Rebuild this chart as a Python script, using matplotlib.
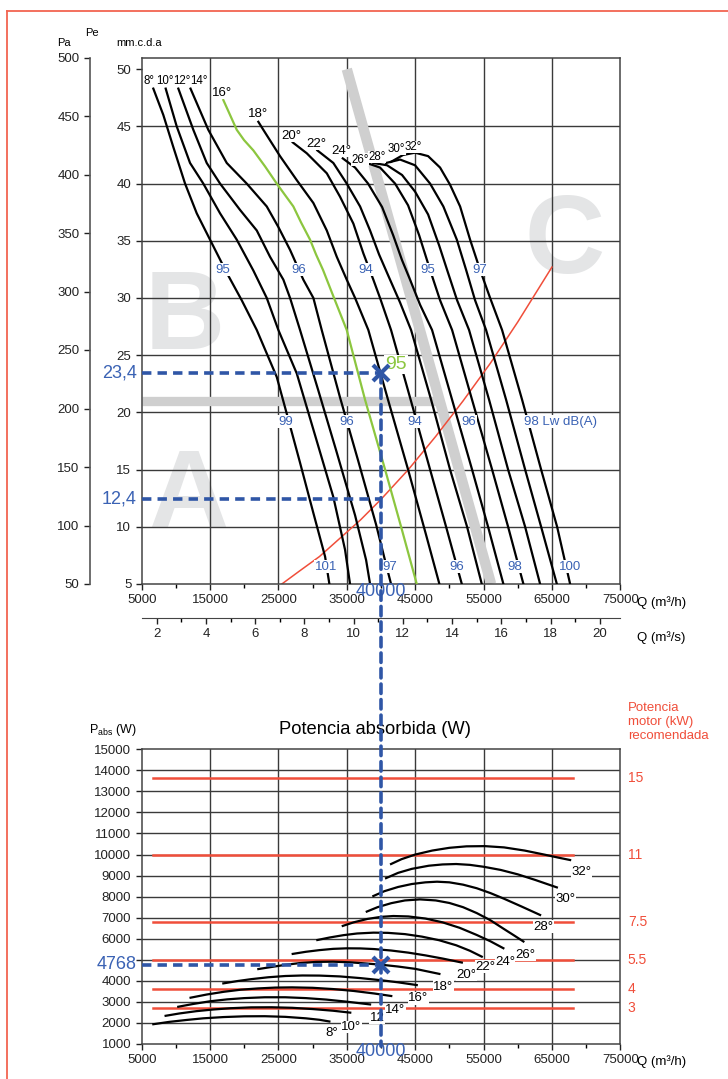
import matplotlib
matplotlib.use('Agg')
import matplotlib.pyplot as plt
from matplotlib.patches import ConnectionPatch
from matplotlib.lines import Line2D

plt.rcParams['font.family'] = ['Liberation Sans', 'DejaVu Sans']
plt.rcParams['mathtext.fontset'] = 'custom'
plt.rcParams['mathtext.rm'] = 'Liberation Sans'

# curvas caudal (m3/h) - presion estatica (mm.c.d.a) por angulo de alabe
q08 = [6700, 8160, 9620, 11340, 13050, 14990, 17440, 19630, 21830, 24750, 26210, 28160, 30110, 31820, 32450]
h08 = [48.3, 46.0, 43.2, 40.0, 37.4, 35.1, 32.2, 29.8, 27.2, 23.1, 19.9, 15.6, 11.2, 7.4, 5.0]
q10 = [8510, 10120, 12070, 14010, 16460, 18900, 21330, 23290, 24990, 27680, 30110, 33030, 34740, 35470]
h10 = [48.3, 45.0, 41.8, 40.0, 37.4, 35.1, 32.4, 30.0, 27.2, 23.4, 18.5, 12.6, 8.0, 5.0]
q12 = [10360, 12550, 14510, 16460, 19380, 21830, 23770, 25720, 26700, 28160, 30790, 33430, 36210, 37820, 38400]
h12 = [48.3, 44.7, 41.8, 40.0, 37.7, 35.9, 33.6, 31.6, 30.0, 27.2, 22.0, 16.7, 11.0, 7.1, 5.0]
q14 = [12140, 14740, 17440, 20360, 23290, 24990, 26700, 28640, 30110, 31330, 34010, 36650, 39280, 40740, 41470]
h14 = [48.3, 44.7, 41.8, 40.0, 38.0, 36.2, 34.2, 31.6, 30.0, 27.2, 21.3, 15.8, 10.2, 6.7, 5.0]
q16 = [16940, 17770, 18900, 19970, 21330, 23040, 24750, 25960, 27180, 28310, 29620, 30500, 31520, 33130,
       34990, 37670, 40600, 42940, 45230]
h16 = [47.3, 46.2, 44.7, 43.8, 42.9, 41.5, 40.0, 39.0, 38.0, 36.6, 35.1, 33.8, 32.45, 30.0,
       27.2, 21.1, 15.0, 10.0, 5.0]
q18 = [22060, 22790, 25230, 27680, 30110, 32070, 33530, 34990, 36210, 38150, 41030, 43960, 46590, 48540]
h18 = [45.4, 44.7, 42.4, 40.3, 38.3, 35.9, 33.6, 31.6, 30.0, 27.2, 21.1, 15.0, 9.3, 5.0]
q20 = [27090, 29140, 32070, 34010, 35960, 37420, 38880, 39860, 41470, 44340, 47180, 49520, 51820]
h20 = [43.6, 42.65, 40.9, 38.85, 36.5, 33.9, 31.6, 30.0, 27.2, 21.1, 15.0, 10.0, 5.0]
q22 = [30690, 33030, 34990, 36940, 38400, 39720, 41030, 42790, 44400, 47330, 50100, 52590, 54740]
h22 = [42.9, 41.8, 40.0, 38.0, 35.9, 33.8, 32.0, 29.6, 27.2, 21.1, 15.0, 10.0, 5.0]
q24 = [34410, 36210, 38110, 40160, 41770, 43080, 44250, 45720, 47470, 50400, 53320, 55660, 57900]
h24 = [42.2, 41.4, 40.0, 37.95, 35.5, 33.3, 31.6, 29.4, 27.2, 21.1, 15.0, 10.0, 5.0]
q26 = [37920, 39860, 42060, 43960, 45570, 47180, 48640, 50400, 53320, 56250, 58590, 60830]
h26 = [41.8, 41.4, 40.0, 38.1, 35.5, 32.45, 29.8, 27.2, 21.1, 15.0, 10.0, 5.0]
q28 = [38880, 40890, 43080, 44980, 46890, 48500, 49670, 51130, 52880, 55810, 58590, 61080, 63270]
h28 = [41.8, 41.6, 40.75, 39.3, 37.3, 34.6, 32.45, 29.8, 27.2, 21.1, 15.0, 10.0, 5.0]
q30 = [40740, 42790, 44980, 47180, 49120, 51090, 52450, 53760, 55370, 58300, 61080, 63420, 65720]
h30 = [41.8, 42.1, 41.6, 40.0, 38.0, 35.1, 32.45, 29.8, 27.2, 21.1, 15.0, 10.0, 5.0]
q32 = [41470, 43230, 44980, 46890, 48640, 50100, 51570, 53030, 54490, 55960, 57710, 60640, 63420, 65760, 67660]
h32 = [41.9, 42.5, 42.7, 42.4, 41.4, 39.9, 38.0, 35.1, 32.45, 30.0, 27.2, 21.1, 15.0, 10.0, 5.0]

angulos = ['8°', '10°', '12°', '14°', '16°', '18°', '20°', '22°', '24°', '26°', '28°', '30°', '32°']
# posicion de las etiquetas de angulo (Q, mm)
lab_q = [6070, 8340, 10820, 13380, 16700, 22060, 26950, 30600, 34260, 36940, 39380, 42310, 44740]
lab_h = [49.0, 49.0, 49.0, 49.0, 47.9, 46.1, 44.2, 43.5, 42.85, 42.1, 42.3, 43.0, 43.2]
lab_fs = [8.3, 8.3, 8.3, 8.3, 9.5, 9.5, 9.5, 9.5, 9.5, 8.3, 8.3, 8.3, 8.3]

# curva de la instalacion
q_inst = [25500, 28000, 31000, 34000, 37000, 40000, 44000, 48000, 52000, 56000, 60000, 65000]
h_inst = [5.0, 6.1, 7.4, 9.0, 10.6, 12.4, 15.0, 17.9, 21.0, 24.3, 27.9, 32.7]

# niveles sonoros Lw dB(A)
lw_txt = ['95', '96', '94', '95', '97', '99', '96', '94', '96', '101', '97', '96', '98', '100']
lw_q = [16900, 28000, 37800, 46900, 54500, 26000, 35000, 45000, 52900, 31960, 41330, 51130, 59620, 67670]
lw_h = [32.45, 32.45, 32.45, 32.45, 32.45, 19.2, 19.2, 19.2, 19.2, 6.5, 6.5, 6.5, 6.5, 6.5]

# potencia absorbida (W)
p08q = [6700, 9000, 11500, 14000, 17000, 20000, 23000, 26000, 29000, 31000, 32450]
p08 = [1940, 2050, 2140, 2220, 2280, 2315, 2320, 2290, 2220, 2150, 2070]
p10q = [8500, 10500, 13000, 15500, 18000, 21000, 24000, 27000, 30000, 33000, 35500]
p10 = [2340, 2450, 2560, 2640, 2700, 2740, 2745, 2720, 2660, 2580, 2490]
p12q = [10350, 12500, 15000, 17500, 20000, 23000, 26000, 29000, 32000, 35000, 38400]
p12 = [2770, 2900, 3030, 3120, 3180, 3220, 3220, 3180, 3110, 3010, 2880]
p14q = [12150, 14500, 17000, 19500, 22000, 24500, 27000, 30000, 33000, 36000, 39000, 41500]
p14 = [3200, 3350, 3480, 3580, 3640, 3680, 3690, 3670, 3610, 3520, 3400, 3280]
p16q = [16940, 19000, 21000, 23500, 26000, 28500, 31000, 34000, 37000, 40000, 42500, 45230]
p16 = [3880, 3990, 4080, 4170, 4230, 4255, 4250, 4210, 4130, 4030, 3930, 3800]
p18q = [22060, 24000, 26000, 28000, 30500, 33000, 35500, 38000, 40000, 42500, 45000, 48540]
p18 = [4560, 4660, 4760, 4840, 4900, 4910, 4880, 4820, 4768, 4680, 4570, 4330]
p20q = [27090, 29000, 31000, 33000, 35000, 37000, 39000, 41500, 44000, 46500, 49000, 51820]
p20 = [5280, 5380, 5460, 5520, 5545, 5540, 5510, 5440, 5340, 5210, 5060, 4870]
p22q = [30690, 32500, 34500, 36500, 38900, 41000, 43500, 46000, 48500, 51000, 53000, 54740]
p22 = [5940, 6060, 6170, 6250, 6290, 6280, 6220, 6100, 5930, 5690, 5430, 5150]
p24q = [34410, 36000, 38000, 40000, 41800, 44000, 46500, 49000, 51500, 54000, 56000, 57900]
p24 = [6610, 6780, 6940, 7040, 7080, 7060, 6960, 6780, 6520, 6180, 5880, 5550]
p26q = [37920, 39500, 41500, 43500, 45700, 48000, 50000, 52000, 54000, 56000, 58000, 59500, 60830]
p26 = [7290, 7500, 7690, 7820, 7870, 7820, 7700, 7500, 7220, 6880, 6460, 6150, 5870]
p28q = [38880, 40500, 42500, 44500, 46500, 48200, 50000, 52000, 54000, 56000, 58000, 60500, 63270]
p28 = [8030, 8260, 8460, 8600, 8680, 8710, 8680, 8570, 8400, 8170, 7900, 7540, 7130]
p30q = [40740, 42500, 44500, 47000, 49000, 51000, 53000, 55000, 57500, 60000, 62500, 65720]
p30 = [8880, 9130, 9320, 9470, 9530, 9550, 9510, 9420, 9270, 9060, 8800, 8440]
p32q = [41470, 43000, 45000, 47500, 50000, 52500, 55200, 58000, 61000, 64000, 66000, 67660]
p32 = [9550, 9780, 10000, 10190, 10320, 10390, 10400, 10340, 10190, 9990, 9850, 9740]

plab_q = [32800, 35620, 39420, 42060, 45470, 49120, 52550, 55220, 58150, 61080, 63750, 66970, 69370]
plab_p = [1510, 1810, 2235, 2615, 3170, 3720, 4280, 4670, 4880, 5230, 6570, 7870, 9190]
plab_t = ['8°', '10°', '12', '14°', '16°', '18°', '20°', '22°', '24°', '26°', '28°', '30°', '32°']

# potencia motor recomendada
motor_kw = ['15', '11', '7.5', '5.5', '4', '3']
motor_w = [13636, 10000, 6818, 5000, 3636, 2727]

q_punto = 40000
h_punto = 23.4
h_punto2 = 12.4
p_punto = 4768

BLUE = '#2f56a6'
TBLUE = '#3a62b4'
GREEN = '#8cc63f'
RED = '#f04e3a'
GRID = '#3a3a3a'

W, H = 728, 1079


def rect(x0, y0, x1, y1):
    return [x0 / W, 1 - y1 / H, (x1 - x0) / W, (y1 - y0) / H]


fig = plt.figure(figsize=(7.28, 10.79), dpi=100)

# ---------------- grafico superior ----------------
axpa = fig.add_axes(rect(141.7, 57.5, 620.3, 584), label='pa')
axpa.patch.set_visible(False)
for s in ['top', 'right', 'bottom']:
    axpa.spines[s].set_visible(False)
axpa.spines['left'].set_position(('outward', 37.4))
axpa.spines['left'].set_color('#555555')
axpa.spines['left'].set_linewidth(1.2)
axpa.set_ylim(50, 500)
axpa.set_yticks(range(50, 501, 50))
axpa.set_xticks([])
axpa.tick_params(axis='y', direction='out', length=4, width=1, labelsize=9.5, colors='#222222')

ax = fig.add_axes(rect(141.7, 57.5, 620.3, 584))
ax.set_xlim(5000, 75000)
ax.set_ylim(5, 51.02)
ax.set_xticks(range(5000, 75001, 10000))
ax.set_xticks(range(10000, 70001, 10000), minor=True)
ax.set_yticks(range(5, 51, 5))
ax.tick_params(direction='out', length=4, width=1, labelsize=9.5, colors='#222222')
ax.tick_params(which='minor', direction='out', length=3, width=1)
for s in ax.spines.values():
    s.set_color('#444444')
    s.set_linewidth(1.1)
for v in range(15000, 65001, 10000):
    ax.axvline(v, color=GRID, lw=1, zorder=1)
for v in range(10, 46, 5):
    ax.axhline(v, color=GRID, lw=1, zorder=1)

# letras de zona
for txt, xq, yh in [('A', 11780, 12.5), ('B', 11340, 28.1), ('C', 66800, 34.7)]:
    ax.text(xq, yh, txt, fontsize=80, fontweight='bold', color='#e4e5e6',
            ha='center', va='center', zorder=0.5)

# bandas grises
ax.plot([5000, 48640], [21.0, 21.0], color='#cfcfcf', lw=6.7, solid_capstyle='butt', zorder=1.5)
ax.plot([35000, 56100], [50.0, 5.0], color='#cfcfcf', lw=7.5, solid_capstyle='butt', zorder=1.5)

# curva instalacion
ax.plot(q_inst, h_inst, color=RED, lw=1.1, zorder=2.5)

curvas = [(q08, h08), (q10, h10), (q12, h12), (q14, h14), (q16, h16), (q18, h18), (q20, h20),
          (q22, h22), (q24, h24), (q26, h26), (q28, h28), (q30, h30), (q32, h32)]
for i, (qq, hh) in enumerate(curvas):
    col = GREEN if angulos[i] == '16°' else 'black'
    ax.plot(qq, hh, color=col, lw=1.6, zorder=3, solid_joinstyle='round')
    if i < 4:
        ax.text(lab_q[i], lab_h[i], angulos[i], fontsize=lab_fs[i], ha='center', va='center', zorder=4)
    else:
        ax.text(lab_q[i], lab_h[i], angulos[i], fontsize=lab_fs[i], ha='center', va='center', zorder=4,
                bbox=dict(facecolor='white', edgecolor='none', pad=0.1))

for t, xq, yh in zip(lw_txt, lw_q, lw_h):
    ax.text(xq, yh, t, fontsize=9.5, color=TBLUE, ha='center', va='center', zorder=4,
            bbox=dict(facecolor='white', edgecolor='none', pad=0.4))
ax.text(60900, 19.2, '98 Lw dB(A)', fontsize=9.5, color=TBLUE, ha='left', va='center', zorder=4,
        bbox=dict(facecolor='white', edgecolor='none', pad=0.3))
ax.text(42200, 24.2, '95', fontsize=14, color=GREEN, ha='center', va='center', zorder=4,
        bbox=dict(facecolor='white', edgecolor='none', pad=0.5))

# punto de trabajo
dash = (0, (2.6, 1.7))
ax.plot([5000, q_punto], [h_punto, h_punto], color=BLUE, lw=2.6, ls=dash, zorder=5)
ax.plot([5000, q_punto], [h_punto2, h_punto2], color=BLUE, lw=2.6, ls=dash, zorder=5)
ax.plot(q_punto, h_punto, marker='x', ms=11, mew=3, color=BLUE, zorder=6)
ax.text(4300, h_punto, '23,4', fontsize=13, color=TBLUE, ha='right', va='center')
ax.text(4300, h_punto2, '12,4', fontsize=13, color=TBLUE, ha='right', va='center')
ax.text(q_punto, 4.35, '40000', fontsize=13, color=TBLUE, ha='center', va='center', zorder=6)

sec = ax.secondary_xaxis(-34 / 526.5, functions=(lambda q: q / 3600, lambda s: s * 3600))
sec.set_xticks(range(2, 21, 2))
sec.set_xticks(range(3, 20, 2), minor=True)
sec.tick_params(direction='out', length=4, width=1, labelsize=9.5, colors='#222222')
sec.tick_params(which='minor', direction='out', length=3, width=1)
sec.spines['bottom'].set_color('#444444')

fig.text(637 / W, 1 - 603 / H, 'Q (m³/h)', fontsize=9.5, va='center', ha='left')
fig.text(637 / W, 1 - 638 / H, 'Q (m³/s)', fontsize=9.5, va='center', ha='left')
fig.text(64 / W, 1 - 43 / H, 'Pa', fontsize=8, ha='center', va='center')
fig.text(92 / W, 1 - 33 / H, 'Pe', fontsize=8, ha='center', va='center')
fig.text(139 / W, 1 - 43 / H, 'mm.c.d.a', fontsize=8, ha='center', va='center')

# ---------------- grafico inferior ----------------
axb = fig.add_axes(rect(141.7, 749.3, 620.3, 1044))
axb.set_xlim(5000, 75000)
axb.set_ylim(1000, 15000)
axb.set_xticks(range(5000, 75001, 10000))
axb.set_xticks(range(10000, 70001, 10000), minor=True)
pticks = list(range(1000, 15001, 1000))
axb.set_yticks(pticks)
axb.set_yticklabels(['' if v == 5000 else str(v) for v in pticks])
axb.tick_params(direction='out', length=4, width=1, labelsize=9.5, colors='#222222')
axb.tick_params(which='minor', direction='out', length=3, width=1)
for s in axb.spines.values():
    s.set_color('#444444')
    s.set_linewidth(1.1)
for v in range(15000, 65001, 10000):
    axb.axvline(v, color=GRID, lw=1, zorder=1)
for v in range(2000, 14001, 1000):
    axb.axhline(v, color=GRID, lw=1, zorder=1)

for kw, pw in zip(motor_kw, motor_w):
    axb.plot([6600, 68100], [pw, pw], color=RED, lw=1.8, zorder=2)
    axb.text(76100, pw, kw, fontsize=10, color=RED, ha='left', va='center')

pcurvas = [(p08q, p08), (p10q, p10), (p12q, p12), (p14q, p14), (p16q, p16), (p18q, p18), (p20q, p20),
           (p22q, p22), (p24q, p24), (p26q, p26), (p28q, p28), (p30q, p30), (p32q, p32)]
for qq, pp in pcurvas:
    axb.plot(qq, pp, color='black', lw=1.6, zorder=3, solid_joinstyle='round')
for t, xq, yp in zip(plab_t, plab_q, plab_p):
    axb.text(xq, yp, t, fontsize=9.5, ha='center', va='center', zorder=4,
             bbox=dict(facecolor='white', edgecolor='none', pad=0.3))

axb.plot([5000, q_punto], [p_punto, p_punto], color=BLUE, lw=2.6, ls=dash, zorder=5)
axb.plot(q_punto, p_punto, marker='x', ms=11, mew=3, color=BLUE, zorder=6)
axb.text(4300, p_punto, '4768', fontsize=13, color=TBLUE, ha='right', va='center')
axb.text(q_punto, 620, '40000', fontsize=13, color=TBLUE, ha='center', va='center', zorder=6)

con = ConnectionPatch(xyA=(q_punto, h_punto), coordsA=ax.transData,
                      xyB=(q_punto, 900), coordsB=axb.transData,
                      color=BLUE, lw=2.6, linestyle=dash, zorder=7)
fig.add_artist(con)

fig.text(375 / W, 1 - 730 / H, 'Potencia absorbida (W)', fontsize=13.2, ha='center', va='center')
fig.text(113 / W, 1 - 730 / H, r'P$_{\rm abs}$ (W)', fontsize=9, ha='center', va='center')
fig.text(628 / W, 1 - 722 / H, 'Potencia\nmotor (kW)\nrecomendada', fontsize=9.5, color=RED,
         ha='left', va='center', linespacing=1.2)
fig.text(637 / W, 1 - 1062 / H, 'Q (m³/h)', fontsize=9.5, va='center', ha='left')

# marco
fig.add_artist(Line2D([7.3 / W, 7.3 / W], [0, 1 - 10.5 / H], color='#f26451', lw=1.3))
fig.add_artist(Line2D([7.3 / W, 1], [1 - 10.5 / H, 1 - 10.5 / H], color='#f26451', lw=1.3))

fig.savefig('out.png', dpi=100)
